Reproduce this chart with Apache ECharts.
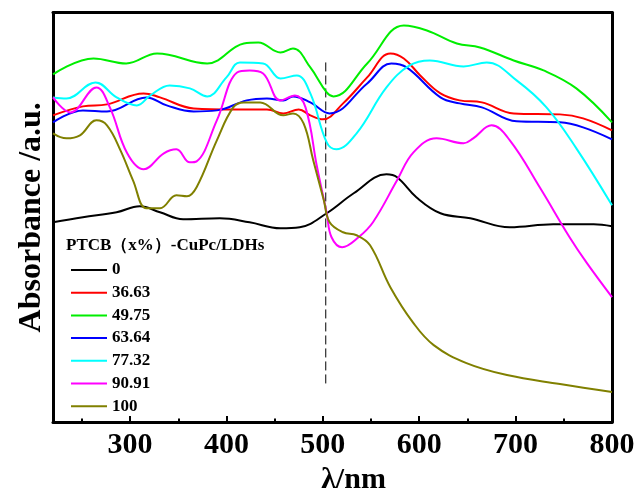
<!DOCTYPE html>
<html>
<head>
<meta charset="utf-8">
<script src="https://cdn.jsdelivr.net/npm/echarts@6/dist/echarts.min.js"></script>
<style>html,body{margin:0;padding:0;background:#fff}#c{width:640px;height:492px}</style>
</head>
<body>
<div id="c"></div>
<script>
// Series names (PTCB content, %)
const seriesNames = ['0', '36.63', '49.75', '63.64', '77.32', '90.91', '100'];
const seriesColors = ['#000000', '#ff0000', '#00ee00', '#0000ff', '#00ffff', '#ff00ff', '#808000'];
// x tick labels
const majorTicks = [300, 400, 500, 600, 700, 800];
const minorTicks = [250, 350, 450, 550, 650, 750];
// [wavelength nm, absorbance a.u.]
const s0 = [[220,2.00],[251,2.05],[286,2.10],[310,2.16],[331,2.10],[355,2.03],[393,2.04],[424,2.00],[456,1.94],[476,1.95],[504,2.09],[532,2.29],[566,2.48],[577,2.45],[597,2.25],[622,2.09],[653,2.04],[694,1.95],[739,1.98],[781,1.98],[800,1.96]];
const s3663 = [[220,3.07],[251,3.16],[276,3.18],[314,3.29],[331,3.25],[366,3.14],[407,3.13],[442,3.13],[459,3.09],[475,3.13],[487,3.07],[500,3.03],[521,3.19],[546,3.45],[570,3.69],[584,3.64],[601,3.47],[622,3.29],[642,3.22],[665,3.20],[698,3.09],[746,3.08],[770,3.04],[800,2.92]];
const s4975 = [[220,3.48],[262,3.64],[296,3.59],[328,3.69],[380,3.59],[418,3.79],[433,3.80],[456,3.70],[469,3.74],[487,3.55],[504,3.30],[511,3.26],[546,3.59],[584,3.97],[608,3.92],[639,3.79],[663,3.75],[698,3.62],[729,3.52],[763,3.34],[800,3.00]];
const s6364 = [[220,3.00],[251,3.12],[276,3.11],[317,3.25],[338,3.17],[366,3.11],[390,3.12],[421,3.22],[442,3.24],[459,3.22],[469,3.26],[487,3.20],[507,3.09],[546,3.39],[571,3.59],[587,3.55],[622,3.25],[642,3.19],[665,3.15],[701,3.01],[746,3.00],[770,2.95],[800,2.83]];
const s7732 = [[220,3.25],[234,3.24],[264,3.40],[286,3.25],[307,3.17],[321,3.27],[341,3.37],[362,3.34],[380,3.26],[400,3.45],[414,3.60],[438,3.59],[456,3.44],[473,3.47],[487,3.29],[504,2.80],[514,2.73],[535,2.89],[566,3.35],[590,3.57],[611,3.62],[646,3.56],[670,3.60],[701,3.42],[732,3.15],[763,2.74],[800,2.17]];
const s9091 = [[220,3.25],[238,3.10],[265,3.35],[279,3.15],[297,2.69],[314,2.53],[335,2.69],[348,2.73],[362,2.60],[369,2.61],[390,3.02],[411,3.50],[424,3.52],[438,3.49],[456,3.22],[471,3.27],[482,3.15],[494,2.55],[504,2.09],[509,1.85],[520,1.75],[537,1.85],[552,2.00],[577,2.42],[594,2.70],[618,2.84],[646,2.79],[656,2.84],[675,2.97],[694,2.82],[725,2.35],[756,1.85],[774,1.59],[800,1.25]];
const s100 = [[220,2.89],[234,2.84],[248,2.87],[265,3.02],[276,2.97],[290,2.72],[303,2.42],[317,2.14],[331,2.14],[348,2.27],[359,2.26],[369,2.35],[390,2.82],[407,3.15],[418,3.20],[435,3.20],[459,3.07],[469,3.09],[480,2.99],[490,2.62],[501,2.22],[507,2.00],[521,1.90],[535,1.87],[549,1.77],[570,1.35],[594,0.99],[615,0.77],[649,0.59],[691,0.47],[746,0.38],[800,0.30]];
const allSeries = [s0, s3663, s4975, s6364, s7732, s9091, s100];
// vertical dashed reference line
const refLine = [[503, 3.60], [503, 0.35]];

const serif = 'Liberation Serif, Times New Roman, serif';
const chart = echarts.init(document.getElementById('c'), null, {renderer: 'canvas'});
const series = allSeries.map((d, i) => ({
  name: seriesNames[i], type: 'line', data: d, smooth: 0.4, symbol: 'none',
  lineStyle: {color: seriesColors[i], width: 2}, itemStyle: {color: seriesColors[i]},
  z: 3
}));
series.push({
  name: 'ref', type: 'line', data: refLine, symbol: 'none', silent: true,
  lineStyle: {color: '#000', width: 1, type: [9, 4]}, z: 2
});

chart.setOption({
  animation: false,
  backgroundColor: '#fff',
  grid: {left: 53, right: 28, top: 12.5, bottom: 70, containLabel: false, outerBoundsMode: 'none'},
  graphic: [{
    type: 'text', left: 66, top: 237,
    style: {text: 'PTCB（x%）-CuPc/LDHs', font: 'bold 17px ' + serif, fill: '#000'}
  }],
  legend: {
    data: seriesNames.map(n => ({name: n, icon: 'rect'})),
    orient: 'vertical', left: 66, top: 256,
    itemWidth: 36, itemHeight: 2, itemGap: 4.7,
    textStyle: {fontFamily: serif, fontWeight: 'bold', fontSize: 17, lineHeight: 18, color: '#000'}
  },
  xAxis: [{
    type: 'value', min: 220, max: 800, position: 'bottom',
    name: 'λ/nm', nameLocation: 'middle', nameGap: 34,
    nameTextStyle: {fontFamily: serif, fontWeight: 'bold', fontSize: 30, color: '#000', padding: [0, 0, 0, 42]},
    axisLine: {show: true, lineStyle: {color: '#000', width: 3}},
    axisTick: {show: true, inside: true, length: 6, customValues: majorTicks, lineStyle: {color: '#000', width: 2}},
    axisLabel: {show: true, customValues: majorTicks, margin: 8, fontFamily: serif, fontWeight: 'bold', fontSize: 30, color: '#000'},
    splitLine: {show: false}
  }, {
    type: 'value', min: 220, max: 800, position: 'bottom',
    axisLine: {show: false},
    axisTick: {show: true, inside: true, length: 3.5, customValues: minorTicks, lineStyle: {color: '#000', width: 2}},
    axisLabel: {show: false}, splitLine: {show: false}
  }, {
    type: 'value', min: 220, max: 800, position: 'top',
    axisLine: {show: true, lineStyle: {color: '#000', width: 3}},
    axisTick: {show: false}, axisLabel: {show: false}, splitLine: {show: false}
  }],
  yAxis: [{
    type: 'value', min: 0, max: 4.1, position: 'left',
    name: 'Absorbance /a.u.', nameLocation: 'middle', nameGap: 5,
    nameTextStyle: {fontFamily: serif, fontWeight: 'bold', fontSize: 32, color: '#000'},
    axisLine: {show: true, lineStyle: {color: '#000', width: 3}},
    axisTick: {show: false}, axisLabel: {show: false}, splitLine: {show: false}
  }, {
    type: 'value', min: 0, max: 4.1, position: 'right',
    axisLine: {show: true, lineStyle: {color: '#000', width: 3}},
    axisTick: {show: false}, axisLabel: {show: false}, splitLine: {show: false}
  }],
  series: series
});
</script>
</body>
</html>
